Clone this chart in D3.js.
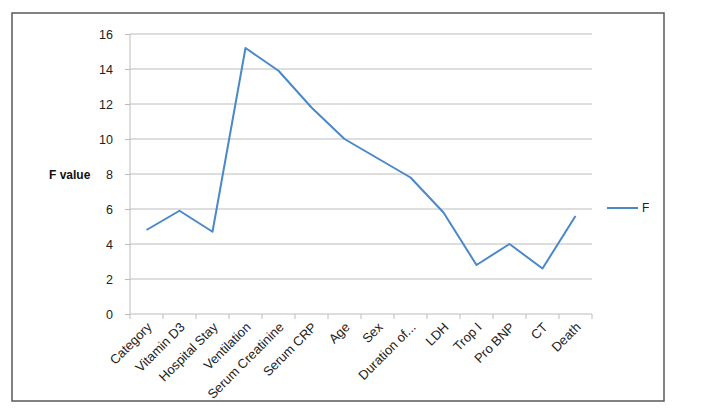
<!DOCTYPE html>
<html>
<head>
<meta charset="utf-8">
<script src="https://cdn.jsdelivr.net/npm/d3@7"></script>
<style>
  body { margin: 0; background: #fff; }
  text { font-family: "Liberation Sans", Arial, sans-serif; }
</style>
</head>
<body>
<div id="chart"></div>
<script>
var categories = ['Category', 'Vitamin D3', 'Hospital Stay', 'Ventilation', 'Serum Creatinine',
  'Serum CRP', 'Age', 'Sex', 'Duration of...', 'LDH', 'Trop I', 'Pro BNP', 'CT', 'Death'];
var fValues = [4.8, 5.9, 4.7, 15.2, 13.9, 11.8, 10.0, 8.9, 7.8, 5.8, 2.8, 4.0, 2.6, 5.6];
var yTicks = [0, 2, 4, 6, 8, 10, 12, 14, 16];
var seriesName = 'F';
var yTitle = 'F value';

(function() {
  var svg = d3.select('#chart').append('svg')
    .attr('width', 728)
    .attr('height', 414);

  // outer frame
  svg.append('rect')
    .attr('x', 12).attr('y', 13)
    .attr('width', 652).attr('height', 388)
    .attr('fill', '#fff')
    .attr('stroke', '#595959')
    .attr('stroke-width', 1.5);

  var left = 130, right = 592, top = 34, bottom = 314;

  var x = d3.scaleBand().domain(categories).range([left, right]);
  var y = d3.scaleLinear().domain([0, 16]).range([bottom, top]);

  // gridlines
  svg.append('g').selectAll('line')
    .data(yTicks.filter(function(t) { return t > 0; }))
    .join('line')
    .attr('x1', left).attr('x2', right)
    .attr('y1', function(d) { return y(d); })
    .attr('y2', function(d) { return y(d); })
    .attr('stroke', '#bcbcbc')
    .attr('stroke-width', 1);

  // y axis
  var yAxis = svg.append('g')
    .attr('transform', 'translate(' + left + ',0)')
    .call(d3.axisLeft(y).tickValues(yTicks).tickSize(5).tickPadding(12));
  yAxis.select('.domain').attr('stroke', '#bcbcbc').attr('d', 'M0,' + top + 'V' + bottom);
  yAxis.selectAll('.tick line').attr('stroke', '#bcbcbc');
  yAxis.selectAll('.tick text')
    .attr('font-size', 12.5)
    .attr('fill', '#222')
    .style('font-family', '"Liberation Sans", Arial, sans-serif');

  // x axis: ticks at category boundaries
  var xAxis = svg.append('g');
  xAxis.append('line')
    .attr('x1', left).attr('x2', right)
    .attr('y1', bottom).attr('y2', bottom)
    .attr('stroke', '#bcbcbc');
  xAxis.selectAll('line.tk')
    .data(d3.range(categories.length + 1))
    .join('line')
    .attr('class', 'tk')
    .attr('x1', function(i) { return left + i * x.step(); })
    .attr('x2', function(i) { return left + i * x.step(); })
    .attr('y1', bottom).attr('y2', bottom + 5)
    .attr('stroke', '#bcbcbc');
  xAxis.selectAll('text')
    .data(categories)
    .join('text')
    .attr('transform', function(d) {
      return 'translate(' + (x(d) + x.bandwidth() / 2 + 6) + ',' + (bottom + 14) + ') rotate(-45)';
    })
    .attr('text-anchor', 'end')
    .attr('font-size', 13)
    .attr('fill', '#222')
    .text(function(d) { return d; });

  // y title
  svg.append('text')
    .attr('x', 49).attr('y', 179)
    .attr('font-size', 12)
    .attr('font-weight', 'bold')
    .attr('fill', '#111')
    .text(yTitle);

  // line
  var line = d3.line()
    .x(function(d, i) { return x(categories[i]) + x.bandwidth() / 2; })
    .y(function(d) { return y(d); });
  svg.append('path')
    .datum(fValues)
    .attr('d', line)
    .attr('fill', 'none')
    .attr('stroke', '#4a88c8')
    .attr('stroke-width', 2)
    .attr('stroke-linejoin', 'round');

  // legend
  svg.append('line')
    .attr('x1', 607).attr('x2', 638)
    .attr('y1', 208).attr('y2', 208)
    .attr('stroke', '#4a88c8')
    .attr('stroke-width', 2);
  svg.append('text')
    .attr('x', 642).attr('y', 212)
    .attr('font-size', 12)
    .attr('fill', '#222')
    .text(seriesName);
})();
</script>
</body>
</html>
